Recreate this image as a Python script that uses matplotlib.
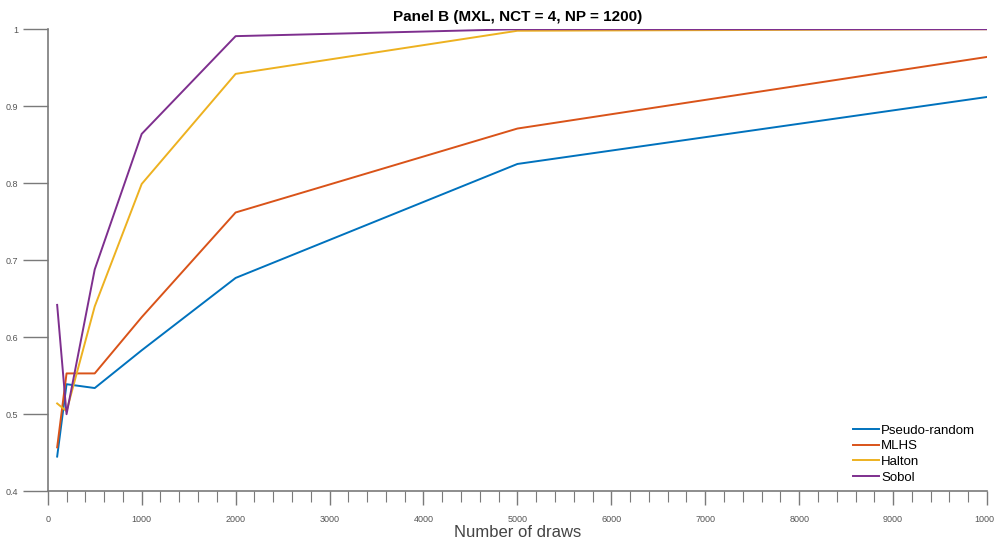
import numpy as np
import matplotlib
matplotlib.use('Agg')
import matplotlib.pyplot as plt
from matplotlib.ticker import MultipleLocator, FormatStrFormatter

draws = [100, 200, 500, 1000, 2000, 5000, 10000]
pseudo = [0.445, 0.539, 0.534, 0.583, 0.677, 0.825, 0.912]
mlhs = [0.457, 0.553, 0.553, 0.626, 0.762, 0.871, 0.964]
halton = [0.514, 0.504, 0.640, 0.799, 0.942, 0.998, 1.0]
sobol = [0.642, 0.500, 0.688, 0.864, 0.991, 1.0, 1.0]

plt.rcParams['font.family'] = ['Liberation Sans', 'DejaVu Sans']

fig = plt.figure(figsize=(9.95, 5.41), dpi=100)
ax = fig.add_axes([0.048, 0.092, 0.944, 0.854])

ax.plot(draws, pseudo, color='#0072BD', lw=1.4, label='Pseudo-random')
ax.plot(draws, mlhs, color='#D95319', lw=1.4, label='MLHS')
ax.plot(draws, halton, color='#EDB120', lw=1.4, label='Halton')
ax.plot(draws, sobol, color='#7E2F8E', lw=1.4, label='Sobol')

ax.set_xlim(0, 10000)
ax.set_ylim(0.4, 1.0)
ax.xaxis.set_major_locator(MultipleLocator(1000))
ax.xaxis.set_minor_locator(MultipleLocator(200))
ax.yaxis.set_major_locator(MultipleLocator(0.1))
ax.yaxis.set_major_formatter(FormatStrFormatter('%g'))

for s in ['top', 'right']:
    ax.spines[s].set_visible(False)
for s in ['left', 'bottom']:
    ax.spines[s].set_color('#7a7a7a')
    ax.spines[s].set_linewidth(1.2)

ax.tick_params(axis='x', which='major', direction='out', length=10, width=1.0,
               color='#7a7a7a', labelsize=6.5, labelcolor='#555555', pad=7)
ax.tick_params(axis='x', which='minor', direction='out', length=8, width=0.8,
               color='#7a7a7a')
ax.tick_params(axis='y', which='major', direction='out', length=18, width=1.0,
               color='#7a7a7a', labelsize=6.5, labelcolor='#555555', pad=3)

ax.set_xlabel('Number of draws', fontsize=12, color='#444444', labelpad=1)
ax.set_title('Panel B (MXL, NCT = 4, NP = 1200)', fontsize=11, fontweight='bold', pad=6)

ax.legend(loc='lower right', frameon=False, fontsize=9.5, handlelength=1.9,
          handletextpad=0.2, labelspacing=0.25, bbox_to_anchor=(1.0, -0.009))

fig.savefig('out.png', dpi=100)
